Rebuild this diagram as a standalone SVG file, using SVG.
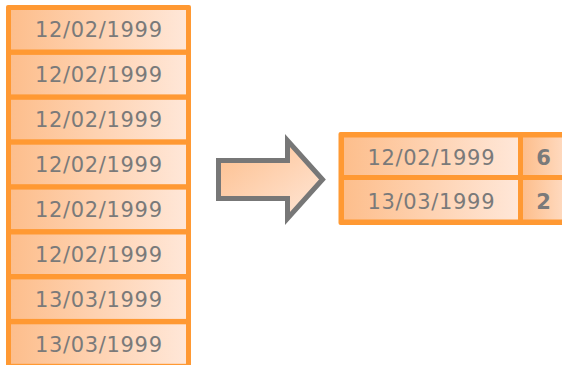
<svg xmlns="http://www.w3.org/2000/svg" width="562" height="365" viewBox="0 0 562 365">
<style>
.frame{fill:#FF9933;}
.cell{fill:url(#cg);}
.t{font-family:"DejaVu Sans",Verdana,sans-serif;font-size:21px;fill:#7a7a7a;text-anchor:middle;}
.b{font-weight:bold;}
</style>
<defs>
<linearGradient id="cg" x1="0" y1="0" x2="1" y2="0">
<stop offset="0" stop-color="#FDBE8C"/>
<stop offset="1" stop-color="#FFE7D8"/>
</linearGradient>
<linearGradient id="ag" x1="0" y1="0" x2="1" y2="1">
<stop offset="0" stop-color="#FDBE8C"/>
<stop offset="1" stop-color="#FFE7D8"/>
</linearGradient>
</defs>
<g id="source-list">
<rect class="frame" x="6" y="5" width="185" height="370" rx="2"/>
<rect class="cell" x="11" y="10" width="175" height="39.5"/>
<rect class="cell" x="11" y="54.9" width="175" height="39.5"/>
<rect class="cell" x="11" y="99.8" width="175" height="39.5"/>
<rect class="cell" x="11" y="144.7" width="175" height="39.5"/>
<rect class="cell" x="11" y="189.6" width="175" height="39.5"/>
<rect class="cell" x="11" y="234.5" width="175" height="39.5"/>
<rect class="cell" x="11" y="279.4" width="175" height="39.5"/>
<rect class="cell" x="11" y="324.3" width="175" height="39.5"/>
<text class="t" x="98.5" y="37.3" textLength="127" lengthAdjust="spacing">12/02/1999</text>
<text class="t" x="98.5" y="82.2" textLength="127" lengthAdjust="spacing">12/02/1999</text>
<text class="t" x="98.5" y="127.1" textLength="127" lengthAdjust="spacing">12/02/1999</text>
<text class="t" x="98.5" y="172" textLength="127" lengthAdjust="spacing">12/02/1999</text>
<text class="t" x="98.5" y="216.9" textLength="127" lengthAdjust="spacing">12/02/1999</text>
<text class="t" x="98.5" y="261.8" textLength="127" lengthAdjust="spacing">12/02/1999</text>
<text class="t" x="98.5" y="306.7" textLength="127" lengthAdjust="spacing">13/03/1999</text>
<text class="t" x="98.5" y="351.6" textLength="127" lengthAdjust="spacing">13/03/1999</text>
</g>
<g id="connectors">
<polygon points="218.5,160.5 287.5,160.5 287.5,140.5 322.5,179.5 287.5,218.5 287.5,198.5 218.5,198.5" fill="url(#ag)" stroke="#777777" stroke-width="5" stroke-linejoin="miter" stroke-miterlimit="3"/>
</g>
<g id="result-table">
<rect class="frame" x="338.5" y="132" width="240" height="93" rx="2"/>
<rect class="cell" x="344" y="137.5" width="174" height="37.5"/>
<rect class="cell" x="344" y="180" width="174" height="39.5"/>
<rect class="cell" x="523" y="137.5" width="60" height="37.5"/>
<rect class="cell" x="523" y="180" width="60" height="39.5"/>
<text class="t" x="431" y="165" textLength="127" lengthAdjust="spacing">12/02/1999</text>
<text class="t" x="431" y="209.3" textLength="127" lengthAdjust="spacing">13/03/1999</text>
<text class="t b" x="543.5" y="165">6</text>
<text class="t b" x="543.5" y="209.3">2</text>
</g>
</svg>
